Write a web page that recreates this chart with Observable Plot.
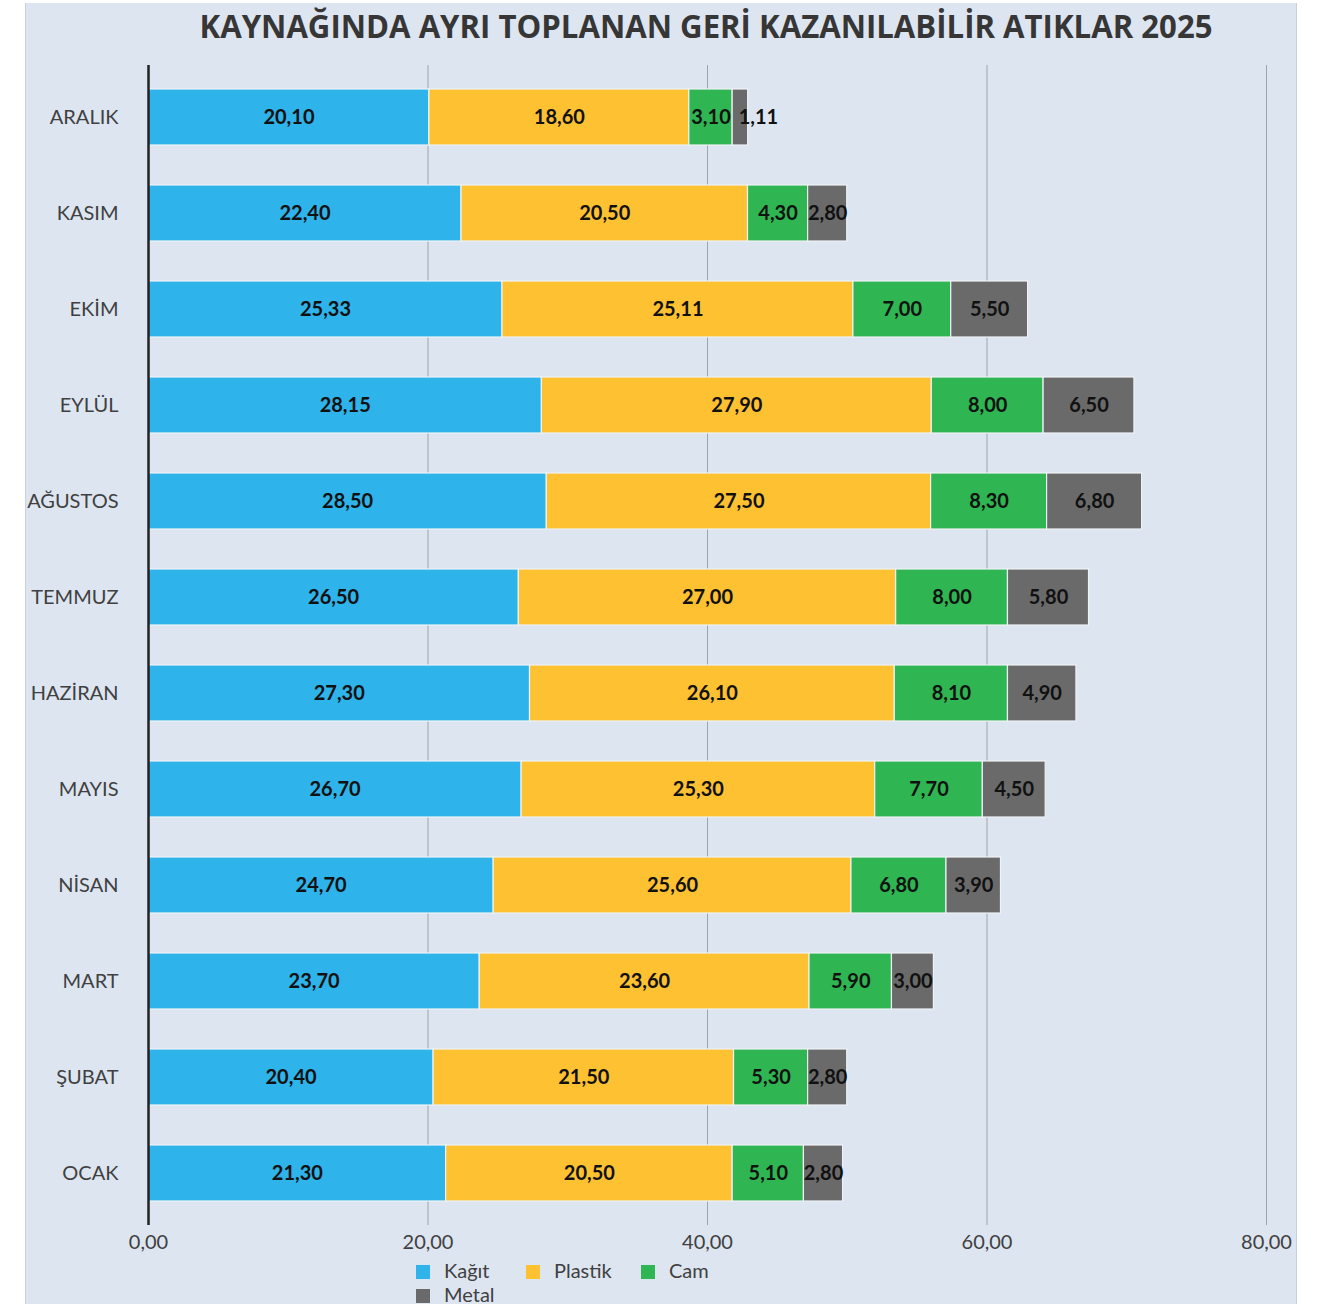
<!DOCTYPE html>
<html>
<head>
<meta charset="utf-8">
<script src="https://cdn.jsdelivr.net/npm/d3@7"></script>
<script src="https://cdn.jsdelivr.net/npm/@observablehq/plot@0.6"></script>
<style>
  html, body { margin: 0; padding: 0; background: #ffffff; }
  body { width: 1326px; height: 1304px; position: relative; overflow: hidden; font-family: Lato, "Open Sans", sans-serif; }
  #panel { position: absolute; left: 25px; top: 3px; width: 1270px; height: 1310px; background: #dde5f0; border-left: 1px solid #c9d1dc; border-right: 1px solid #c9d1dc; }
  #titletext { position: absolute; top: 3px; left: 706px; font-family: "Open Sans", Lato, sans-serif; font-weight: 700; font-size: 33px; color: #363636; white-space: nowrap; transform-origin: 0 0; }
  #chart { position: absolute; left: 0; top: 0; }
  .leg { position: absolute; font-size: 20px; color: #404040; font-family: Lato, sans-serif; line-height: 24px; white-space: nowrap; }
  .leg i { display: inline-block; width: 14px; height: 14px; margin-right: 14px; vertical-align: -1px; }
</style>
</head>
<body>
<div id="panel"></div>
<div id="chart"></div>
<div id="titletext">KAYNAĞINDA AYRI TOPLANAN GERİ KAZANILABİLİR ATIKLAR 2025</div>
<div id="legend"></div>
<script>
const months = ["ARALIK","KASIM","EKİM","EYLÜL","AĞUSTOS","TEMMUZ","HAZİRAN","MAYIS","NİSAN","MART","ŞUBAT","OCAK"];
const types = ["Kağıt","Plastik","Cam","Metal"];
const colors = ["#2eb3ea","#fdc131","#2fb552","#6a6a6a"];
const kagit   = [20.10,22.40,25.33,28.15,28.50,26.50,27.30,26.70,24.70,23.70,20.40,21.30];
const plastik = [18.60,20.50,25.11,27.90,27.50,27.00,26.10,25.30,25.60,23.60,21.50,20.50];
const cam     = [3.10,4.30,7.00,8.00,8.30,8.00,8.10,7.70,6.80,5.90,5.30,5.10];
const metal   = [1.11,2.80,5.50,6.50,6.80,5.80,4.90,4.50,3.90,3.00,2.80,2.80];
const xTicks = [0,20,40,60,80];

const series = [kagit, plastik, cam, metal];
const data = [];
months.forEach((m, i) => {
  types.forEach((t, j) => data.push({month: m, type: t, value: series[j][i]}));
});
const fmt = v => d3.format(".2f")(v).replace(".", ",");

const labelOpts = (textFn, extra) => Plot.stackX({x: "value", y: "month", z: "type", text: textFn, fill: "#111", fontWeight: "bold", fontSize: 20, ...extra});

const chart = Plot.plot({
  width: 1326,
  height: 1262,
  marginLeft: 148,
  marginRight: 60,
  marginTop: 65,
  marginBottom: 37,
  style: {background: "transparent", fontFamily: "Lato, 'Open Sans', sans-serif", fontSize: "20px", color: "#404040"},
  x: {domain: [0, 80], ticks: xTicks, tickFormat: fmt, tickSize: 0, tickPadding: 9, label: null},
  y: {domain: months, paddingInner: 0.42, paddingOuter: 0.25, tickSize: 0, tickPadding: 30, label: null},
  color: {domain: types, range: colors},
  marks: [
    Plot.ruleX(xTicks.filter(d => d > 0), {stroke: "#9ea4ab", strokeWidth: 1}),
    Plot.barX(data, Plot.stackX({x: "value", y: "month", fill: "type", stroke: "#eef2f7", strokeWidth: 1.2})),
    Plot.text(data, labelOpts(d => d.value >= 2 ? fmt(d.value) : "", {})),
    Plot.text(data, labelOpts(d => d.value < 2 ? fmt(d.value) : "", {dx: 18})),
    Plot.ruleX([0], {stroke: "#222", strokeWidth: 2.5})
  ]
});
document.getElementById("chart").appendChild(chart);

// title fit: width 1013px centred at x = 706
const tt = document.getElementById("titletext");
const w = tt.getBoundingClientRect().width;
const s = 1013 / w;
tt.style.transform = `translateX(${-1013 / 2}px) scaleX(${s})`;

// legend
const legend = document.getElementById("legend");
const legPos = [[416, 1258], [526, 1258], [641, 1258], [416, 1282]];
types.forEach((t, j) => {
  const d = document.createElement("div");
  d.className = "leg";
  d.style.left = legPos[j][0] + "px";
  d.style.top = legPos[j][1] + "px";
  d.innerHTML = `<i style="background:${colors[j]}"></i>${t}`;
  legend.appendChild(d);
});
</script>
</body>
</html>
